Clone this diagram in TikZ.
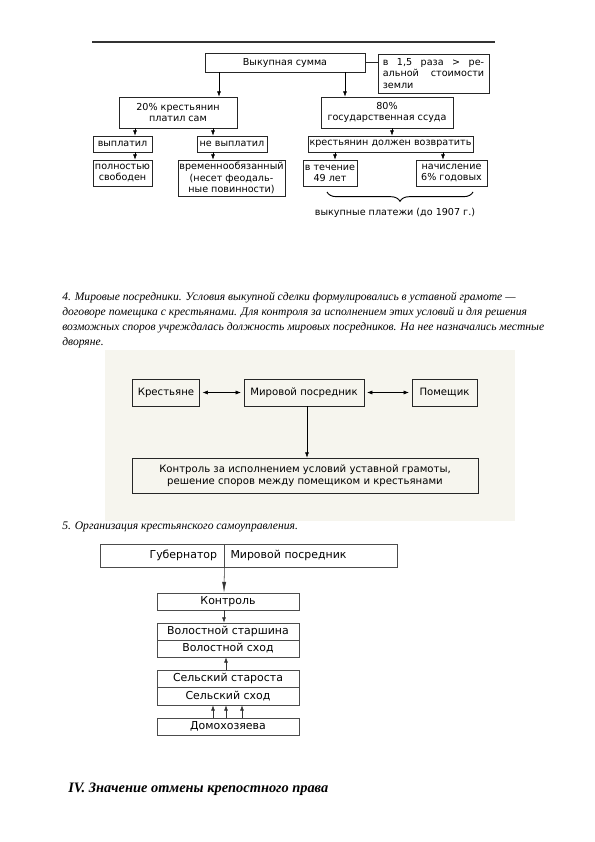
\documentclass[tikz,border=0pt]{standalone}
\usepackage{fontspec}
\setmainfont{Liberation Serif}
\setsansfont{DejaVu Sans}
\usetikzlibrary{arrows.meta,decorations.pathreplacing}
\definecolor{scan}{RGB}{246,245,238}

\begin{document}
\begin{tikzpicture}[x=0.75pt,y=-0.75pt,
    >={Latex[length=4pt,width=3pt]},
    box/.style={draw=black!85,line width=0.6pt,inner sep=1pt,align=center,
      font=\sffamily\fontsize{7.2}{8.4}\selectfont},
    boxb/.style={box,font=\sffamily\fontsize{7.6}{9.4}\selectfont},
    boxc/.style={box,draw=black!70,font=\sffamily\fontsize{8.2}{9.6}\selectfont},
    sz/.style 2 args={minimum width=#1*0.75pt,minimum height=#2*0.75pt},
    txt/.style={anchor=base west,inner sep=0pt,font=\itshape\fontsize{8.7}{11}\selectfont}]
\useasboundingbox (0,0) rectangle (595,842);

\draw [black!80,line width=0.8pt] (92,42) -- (495,42);
\node [box,sz={160}{19}] (vs) at (285,62.5) {Выкупная сумма};
\node [box,sz={111}{39},align=left] (raz) at (433.5,73.5)
  {\hbox to 76pt{в\hfill 1,5\hfill раза\hfill >\hfill ре-}\\
   \hbox to 76pt{альной\hfill стоимости}\\земли};
\draw [black!85] (vs.east) -- (vs.east -| raz.west);
\node [box,sz={118}{31}] (p20) at (178,112.5) {20\% крестьянин\\платил сам};
\node [box,sz={132}{31}] (p80) at (387,112.5) {80\%\\государственная ссуда};
\node [box,sz={59}{16}] (vypl) at (122.5,144) {выплатил};
\node [box,sz={70}{16}] (nevypl) at (232,144) {не выплатил};
\node [box,sz={165}{16}] (dolzh) at (390.5,144) {крестьянин должен возвратить};
\node [box,sz={59}{26}] (svob) at (122.5,173) {полностью\\свободен};
\node [box,sz={105}{36}] (vrem) at (231.5,178) {временнообязанный\\(несет феодаль-\\ные повинности)};
\node [box,sz={54}{26}] (let) at (330,173) {в течение\\49 лет};
\node [box,sz={71}{26}] (nach) at (451.5,173) {начисление\\6\% годовых};
\draw [->] (219,0 |- vs.south) -- (219,0 |- p20.north);
\draw [->] (345,0 |- vs.south) -- (345,0 |- p80.north);
\draw [->] (135,0 |- p20.south) -- (135,0 |- vypl.north);
\draw [->] (213,0 |- p20.south) -- (213,0 |- nevypl.north);
\draw [->] (392,0 |- p80.south) -- (392,0 |- dolzh.north);
\draw [->] (135,0 |- vypl.south) -- (135,0 |- svob.north);
\draw [->] (213,0 |- nevypl.south) -- (213,0 |- vrem.north);
\draw [->] (335,0 |- dolzh.south) -- (335,0 |- let.north);
\draw [->] (443,0 |- dolzh.south) -- (443,0 |- nach.north);
\coordinate (bl) at (327,192);
\coordinate (br) at (473,192);
\draw [line width=0.7pt,decorate,decoration={brace,mirror,amplitude=7pt}] (bl) -- (br);
\node [font=\sffamily\fontsize{7.2}{8.4}\selectfont] (plat) at (395,213) {выкупные платежи (до 1907 г.)};

\node [txt] (l1) at (62,300) {4. Мировые посредники. Условия выкупной сделки формулировались в уставной грамоте —};
\node [txt] (l2) at (62,315) {договоре помещика с крестьянами. Для контроля за исполнением этих условий и для решения};
\node [txt] (l3) at (62,330) {возможных споров учреждалась должность мировых посредников. На нее назначались местные};
\node [txt] (l4) at (62,345) {дворяне.};

\fill [scan] (105,350) rectangle (515,521);
\node [boxb,sz={67}{27}] (kr) at (166,392.5) {Крестьяне};
\node [boxb,sz={120}{27}] (mp) at (304,392.5) {Мировой посредник};
\node [boxb,sz={65}{27}] (pom) at (444.5,392.5) {Помещик};
\node [boxb,sz={346}{35}] (kontr) at (305,475.5)
  {Контроль за исполнением условий уставной грамоты,\\решение споров между помещиком и крестьянами};
\draw [<->,shorten <=2pt,shorten >=2pt] (kr) -- (mp);
\draw [<->,shorten <=2pt,shorten >=2pt] (mp) -- (pom);
\draw [->] (307,0 |- mp.south) -- (307,0 |- kontr.north);

\node [txt] (l5) at (62,529) {5. Организация крестьянского самоуправления.};

\node [boxc,sz={124}{23},align=right,text width=110*0.75pt] (gub) at (162,555.5) {Губернатор};
\node [boxc,sz={173}{23},align=left,text width=160*0.75pt] (mpos) at (310.5,555.5) {Мировой посредник};
\node [boxc,sz={142}{17}] (kn) at (228,601.5) {Контроль};
\node [boxc,sz={142}{17}] (vst) at (228,631.5) {Волостной старшина};
\node [boxc,sz={142}{17}] (vsh) at (228,648.5) {Волостной сход};
\node [boxc,sz={142}{17.5}] (sst) at (228,678.75) {Сельский староста};
\node [boxc,sz={142}{17.5}] (ssh) at (228,696.25) {Сельский сход};
\node [boxc,sz={142}{17}] (dom) at (228,726.5) {Домохозяева};
\draw [-{Latex[length=8pt,width=3pt]},black!80] (gub.south east) -- (224,0 |- kn.north);
\draw [->,black!80] (224,0 |- kn.south) -- (224,0 |- vst.north);
\draw [->,black!80] (226,0 |- sst.north) -- (226,0 |- vsh.south);
\foreach \xx in {213,226,242}
  \draw [->,black!80] (\xx,0 |- dom.north) -- (\xx,0 |- ssh.south);

\node [anchor=base west,inner sep=0pt,font=\bfseries\itshape\fontsize{10.8}{13}\selectfont] (iv) at (68,792)
  {IV. Значение отмены крепостного права};
\end{tikzpicture}
\end{document}
